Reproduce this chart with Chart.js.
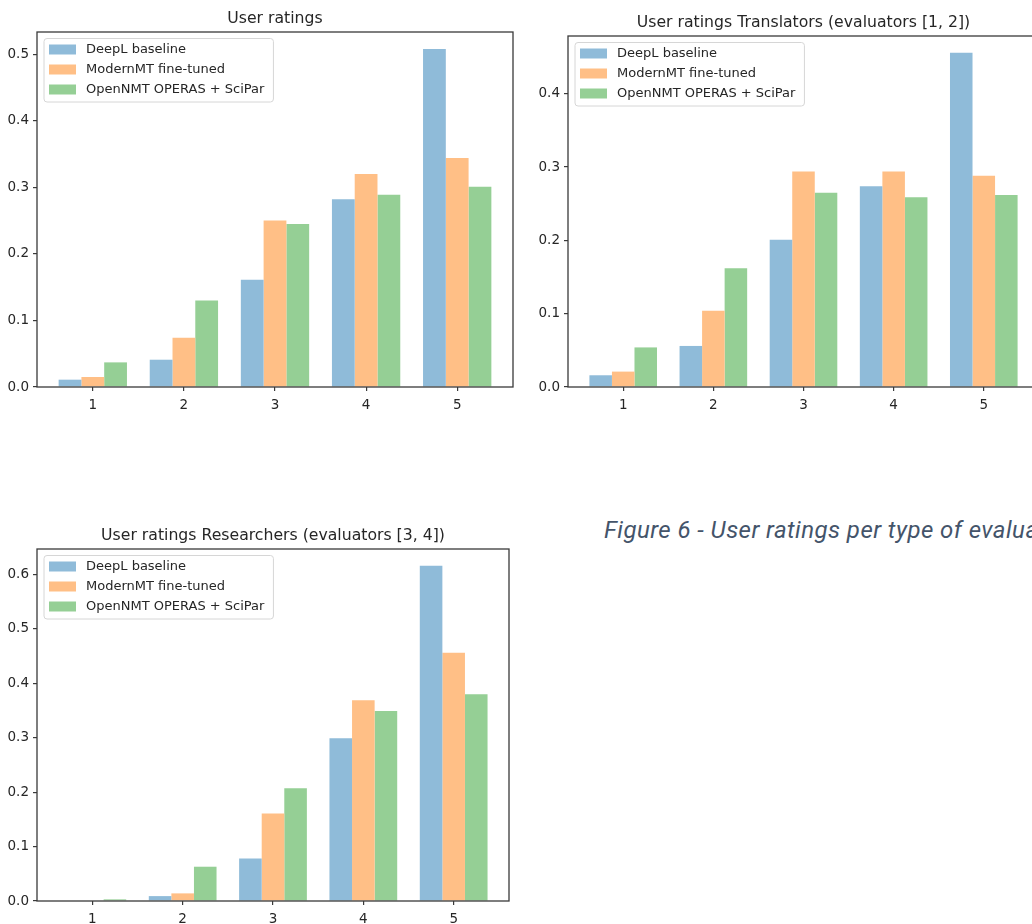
<!DOCTYPE html>
<html>
<head>
<meta charset="utf-8">
<script src="https://cdn.jsdelivr.net/npm/chart.js@4.4.1/dist/chart.umd.min.js"></script>
<style>
  html, body { margin: 0; padding: 0; background: #ffffff; }
  body { width: 1032px; height: 924px; overflow: hidden; position: relative; }
  .panel { position: absolute; }
  .panel canvas { display: block; }
  #caption {
    position: absolute; left: 604px; top: 516px;
    font-family: Roboto, sans-serif; font-style: italic; font-weight: 400;
    font-size: 24px; line-height: 28px; letter-spacing: 0.45px;
    color: #44546a; white-space: nowrap;
  }
</style>
</head>
<body>
<div class="panel" style="left:0px;top:0px;"><canvas id="chartAll" width="520" height="420"></canvas></div>
<div class="panel" style="left:531px;top:4px;"><canvas id="chartTranslators" width="515" height="416"></canvas></div>
<div class="panel" style="left:0px;top:517px;"><canvas id="chartResearchers" width="516" height="407"></canvas></div>
<div id="caption">Figure 6 - User ratings per type of evaluators</div>

<script>
// Rating scale shown on the x axis
const ratings = [1, 2, 3, 4, 5];
const seriesNames = ['DeepL baseline', 'ModernMT fine-tuned', 'OpenNMT OPERAS + SciPar'];

// Share of each rating, all evaluators
const allDeepL    = [0.011, 0.041, 0.161, 0.282, 0.508];
const allModernMT = [0.015, 0.074, 0.250, 0.320, 0.344];
const allOpenNMT  = [0.037, 0.130, 0.245, 0.289, 0.301];

// Translators (evaluators 1 and 2)
const trDeepL    = [0.016, 0.056, 0.201, 0.274, 0.456];
const trModernMT = [0.021, 0.104, 0.294, 0.294, 0.288];
const trOpenNMT  = [0.054, 0.162, 0.265, 0.259, 0.262];

// Researchers (evaluators 3 and 4)
const resDeepL    = [0.000, 0.009, 0.078, 0.299, 0.616];
const resModernMT = [0.000, 0.014, 0.161, 0.369, 0.456];
const resOpenNMT  = [0.003, 0.063, 0.207, 0.349, 0.380];

// Y tick values for each panel
const yTicksAll = [0, 0.1, 0.2, 0.3, 0.4, 0.5];
const yTicksTranslators = [0, 0.1, 0.2, 0.3, 0.4];
const yTicksResearchers = [0, 0.1, 0.2, 0.3, 0.4, 0.5, 0.6];

// Half-transparent tab10 colours over white
const seriesColors = ['#8fbbd9', '#ffbf86', '#95cf95'];

const FONT = "'DejaVu Sans', sans-serif";
const INK = '#262626';
const SPINE = '#3a3a3a';

// Box around the plot area (all four spines)
const framePlugin = {
  id: 'frame',
  afterDatasetsDraw(chart) {
    const a = chart.chartArea, ctx = chart.ctx;
    ctx.save();
    ctx.strokeStyle = SPINE;
    ctx.lineWidth = 1.3;
    ctx.strokeRect(a.left, a.top, a.right - a.left, a.bottom - a.top);
    ctx.restore();
  }
};

// Panel title centred over the plot area
const axesTitlePlugin = {
  id: 'axesTitle',
  afterDraw(chart, args, opts) {
    const a = chart.chartArea, ctx = chart.ctx;
    ctx.save();
    ctx.font = '15.7px ' + FONT;
    ctx.fillStyle = INK;
    ctx.textAlign = 'center';
    ctx.textBaseline = 'alphabetic';
    ctx.fillText(opts.text, (a.left + a.right) / 2, a.top - opts.gap);
    ctx.restore();
  }
};

// Legend drawn inside the upper-left corner of the plot area
const innerLegendPlugin = {
  id: 'innerLegend',
  afterDraw(chart) {
    const a = chart.chartArea, ctx = chart.ctx;
    const sets = chart.data.datasets;
    ctx.save();
    ctx.font = '13px ' + FONT;
    let maxW = 0;
    sets.forEach(ds => { maxW = Math.max(maxW, ctx.measureText(ds.label).width); });
    const x = a.left + 7, y = a.top + 6.5;
    const w = 42 + maxW + 9, h = 63.5, r = 3;
    ctx.beginPath();
    ctx.roundRect(x, y, w, h, r);
    ctx.fillStyle = 'rgba(255,255,255,0.8)';
    ctx.fill();
    ctx.strokeStyle = '#d6d6d6';
    ctx.lineWidth = 1;
    ctx.stroke();
    sets.forEach((ds, i) => {
      const cy = y + 11 + i * 20;
      ctx.fillStyle = ds.backgroundColor;
      ctx.fillRect(x + 5, cy - 5, 27, 10);
      ctx.fillStyle = INK;
      ctx.textBaseline = 'middle';
      ctx.textAlign = 'left';
      ctx.fillText(ds.label, x + 42, cy + 0.5);
    });
    ctx.restore();
  }
};

function makePanel(canvasId, title, values, yTicks, opts) {
  const maxVal = Math.max(...values.flat());
  const datasets = values.map((vals, i) => ({
    label: seriesNames[i],
    data: ratings.map((r, k) => ({ x: r, y: vals[k] })),
    backgroundColor: seriesColors[i],
    borderWidth: 0,
    barPercentage: 1.0,
    categoryPercentage: 0.75
  }));
  return new Chart(document.getElementById(canvasId), {
    type: 'bar',
    data: { datasets },
    plugins: [framePlugin, innerLegendPlugin, axesTitlePlugin],
    options: {
      responsive: false,
      devicePixelRatio: 1,
      animation: false,
      layout: { padding: { left: 0, right: opts.padRight, top: opts.padTop, bottom: opts.padBottom } },
      plugins: {
        legend: { display: false },
        title: { display: false },
        tooltip: { enabled: false },
        axesTitle: { text: title, gap: 9.5 }
      },
      scales: {
        x: {
          type: 'linear',
          offset: false,
          min: ratings[0] - 0.6125,
          max: ratings[ratings.length - 1] + 0.6125,
          afterBuildTicks: s => { s.ticks = ratings.map(v => ({ value: v })); },
          afterFit: s => { s.height = opts.xAxisHeight; },
          grid: { display: true, offset: false, drawOnChartArea: false, drawTicks: true, tickLength: 4, color: SPINE, lineWidth: 1.2 },
          border: { display: false },
          ticks: { color: INK, font: { family: FONT, size: 13.5 }, padding: 6, callback: v => String(v) }
        },
        y: {
          type: 'linear',
          min: 0,
          max: maxVal * 1.05,
          afterBuildTicks: s => { s.ticks = yTicks.map(v => ({ value: v })); },
          afterFit: s => { s.width = opts.yAxisWidth; },
          grid: { display: true, drawOnChartArea: false, drawTicks: true, tickLength: 4, color: SPINE, lineWidth: 1.2 },
          border: { display: false },
          ticks: { color: INK, font: { family: FONT, size: 13.5 }, padding: 4, callback: v => v.toFixed(1) }
        }
      }
    }
  });
}

makePanel('chartAll', 'User ratings',
  [allDeepL, allModernMT, allOpenNMT], yTicksAll,
  { padTop: 32, xAxisHeight: 25, padBottom: 8, padRight: 7, yAxisWidth: 37 });

makePanel('chartTranslators', 'User ratings Translators (evaluators [1, 2])',
  [trDeepL, trModernMT, trOpenNMT], yTicksTranslators,
  { padTop: 32, xAxisHeight: 25, padBottom: 8, padRight: 7, yAxisWidth: 37 });

makePanel('chartResearchers', 'User ratings Researchers (evaluators [3, 4])',
  [resDeepL, resModernMT, resOpenNMT], yTicksResearchers,
  { padTop: 32, xAxisHeight: 23, padBottom: 0, padRight: 7, yAxisWidth: 37 });
</script>
</body>
</html>
